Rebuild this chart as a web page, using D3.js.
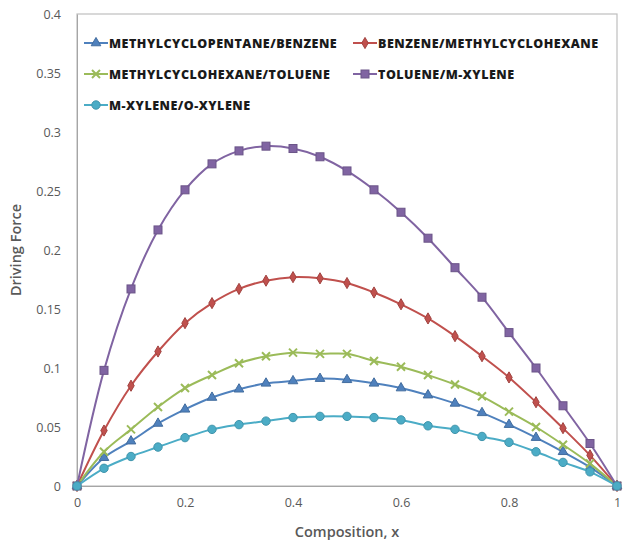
<!DOCTYPE html>
<html lang="en">
<head>
    <meta charset="UTF-8">
    <title>Driving Force vs Composition</title>
    <script src="https://d3js.org/d3.v7.min.js"></script>
    <style>
        body {
            margin: 0;
            background: #fff;
            font-family: 'Open Sans', 'Noto Sans', sans-serif;
        }

        .tick text {
            fill: #595959;
            font-size: 12.5px;
            font-family: 'Open Sans', sans-serif;
        }

        .axisTitle {
            fill: #595959;
            font-size: 14.5px;
            font-weight: 600;
        }

        .legend text {
            fill: #1a1a1a;
            font-size: 12.5px;
            font-weight: 800;
            letter-spacing: 0.5px;
        }
    </style>
</head>
<body>
    <svg></svg>
    <script>
        const width = 623;
        const height = 544;

        // composition values
        const xs = [0, 0.05, 0.1, 0.15, 0.2, 0.25, 0.3, 0.35, 0.4, 0.45, 0.5,
            0.55, 0.6, 0.65, 0.7, 0.75, 0.8, 0.85, 0.9, 0.95, 1];

        const mcpBenzene = [0, 0.024, 0.038, 0.053, 0.065, 0.075, 0.082, 0.087, 0.089, 0.091, 0.090,
            0.087, 0.083, 0.077, 0.070, 0.062, 0.052, 0.041, 0.029, 0.016, 0];
        const benzeneMch = [0, 0.047, 0.085, 0.114, 0.138, 0.155, 0.167, 0.174, 0.177, 0.176, 0.172,
            0.164, 0.154, 0.142, 0.127, 0.110, 0.092, 0.071, 0.049, 0.026, 0];
        const mchToluene = [0, 0.029, 0.048, 0.067, 0.083, 0.094, 0.104, 0.110, 0.113, 0.112, 0.112,
            0.106, 0.101, 0.094, 0.086, 0.076, 0.063, 0.050, 0.035, 0.019, 0];
        const tolueneMx = [0, 0.098, 0.167, 0.217, 0.251, 0.273, 0.284, 0.288, 0.286, 0.279, 0.267,
            0.251, 0.232, 0.210, 0.185, 0.160, 0.130, 0.100, 0.068, 0.036, 0];
        const mxOx = [0, 0.015, 0.025, 0.033, 0.041, 0.048, 0.052, 0.055, 0.058, 0.059, 0.059,
            0.058, 0.056, 0.051, 0.048, 0.042, 0.037, 0.029, 0.020, 0.012, 0];

        const seriesNames = ["METHYLCYCLOPENTANE/BENZENE", "BENZENE/METHYLCYCLOHEXANE",
            "METHYLCYCLOHEXANE/TOLUENE", "TOLUENE/M-XYLENE", "M-XYLENE/O-XYLENE"];
        const seriesValues = [mcpBenzene, benzeneMch, mchToluene, tolueneMx, mxOx];
        const seriesColors = ["#4F81BD", "#C0504D", "#9BBB59", "#8064A2", "#4BACC6"];
        const seriesMarkers = ["triangle", "diamond", "x", "square", "circle"];

        const xTicks = [0, 0.2, 0.4, 0.6, 0.8, 1];
        const yTicks = [0, 0.05, 0.1, 0.15, 0.2, 0.25, 0.3, 0.35, 0.4];

        const margin = { top: 14, right: 6, bottom: 58, left: 77 };

        const svg = d3.select("svg")
            .attr("width", width)
            .attr("height", height);

        const xScale = d3.scaleLinear()
            .domain([0, 1])
            .range([margin.left, width - margin.right]);
        const yScale = d3.scaleLinear()
            .domain([0, 0.4])
            .range([height - margin.bottom, margin.top]);

        // plot frame
        svg.append("rect")
            .attr("x", xScale(0))
            .attr("y", yScale(0.4))
            .attr("width", xScale(1) - xScale(0))
            .attr("height", yScale(0) - yScale(0.4))
            .attr("fill", "none")
            .attr("stroke", "#bfbfbf")
            .attr("stroke-width", 1.2);

        const xAxis = svg.append("g")
            .attr("transform", `translate(0, ${yScale(0)})`)
            .call(d3.axisBottom(xScale).tickValues(xTicks).tickFormat(d3.format("")).tickSize(0).tickPadding(12));
        xAxis.select(".domain").attr("stroke", "#a6a6a6");

        const yAxis = svg.append("g")
            .attr("transform", `translate(${xScale(0)}, 0)`)
            .call(d3.axisLeft(yScale).tickValues(yTicks).tickFormat(d3.format("")).tickSize(0).tickPadding(16));
        yAxis.select(".domain").attr("stroke", "#a6a6a6");

        svg.append("text")
            .attr("class", "axisTitle")
            .attr("text-anchor", "middle")
            .attr("x", (xScale(0) + xScale(1)) / 2)
            .attr("y", 537)
            .text("Composition, x");

        svg.append("text")
            .attr("class", "axisTitle")
            .attr("text-anchor", "middle")
            .attr("transform", `translate(21, ${(yScale(0) + yScale(0.4)) / 2}) rotate(-90)`)
            .text("Driving Force");

        function drawMarker(g, shape, color) {
            if (shape === "triangle") {
                g.append("path").attr("d", d3.symbol(d3.symbolTriangle, 40)())
                    .attr("fill", color).attr("stroke", d3.color(color).darker(0.5));
            } else if (shape === "diamond") {
                g.append("path").attr("d", d3.symbol(d3.symbolDiamond, 36)())
                    .attr("fill", color).attr("stroke", d3.color(color).darker(0.5));
            } else if (shape === "x") {
                g.append("path").attr("d", "M-4,-4L4,4M-4,4L4,-4")
                    .attr("stroke", color).attr("stroke-width", 2).attr("fill", "none");
            } else if (shape === "square") {
                g.append("rect").attr("x", -4).attr("y", -4).attr("width", 8).attr("height", 8)
                    .attr("fill", color).attr("stroke", d3.color(color).darker(0.5));
            } else {
                g.append("circle").attr("r", 4.2)
                    .attr("fill", color).attr("stroke", d3.color(color).darker(0.4));
            }
        }

        const line = d3.line()
            .x(d => xScale(d[0]))
            .y(d => yScale(d[1]))
            .curve(d3.curveCatmullRom.alpha(0.5));

        seriesValues.forEach((vals, i) => {
            const pts = xs.map((x, j) => [x, vals[j]]);
            svg.append("path")
                .datum(pts)
                .attr("d", line)
                .attr("fill", "none")
                .attr("stroke", seriesColors[i])
                .attr("stroke-width", 2);

            svg.append("g").selectAll("g")
                .data(pts)
                .enter()
                .append("g")
                .attr("transform", d => `translate(${xScale(d[0])}, ${yScale(d[1])})`)
                .each(function () { drawMarker(d3.select(this), seriesMarkers[i], seriesColors[i]); });
        });

        // legend
        const legendPos = [[84, 43], [353, 43], [84, 74], [353, 74], [84, 105]];
        const legend = svg.append("g").attr("class", "legend");
        seriesNames.forEach((name, i) => {
            const g = legend.append("g")
                .attr("transform", `translate(${legendPos[i][0]}, ${legendPos[i][1]})`);
            g.append("line")
                .attr("x1", 0).attr("x2", 24)
                .attr("stroke", seriesColors[i]).attr("stroke-width", 2);
            drawMarker(g.append("g").attr("transform", "translate(12, 0)"), seriesMarkers[i], seriesColors[i]);
            g.append("text")
                .attr("x", 25)
                .attr("dy", "0.36em")
                .text(name);
        });
    </script>
</body>
</html>
